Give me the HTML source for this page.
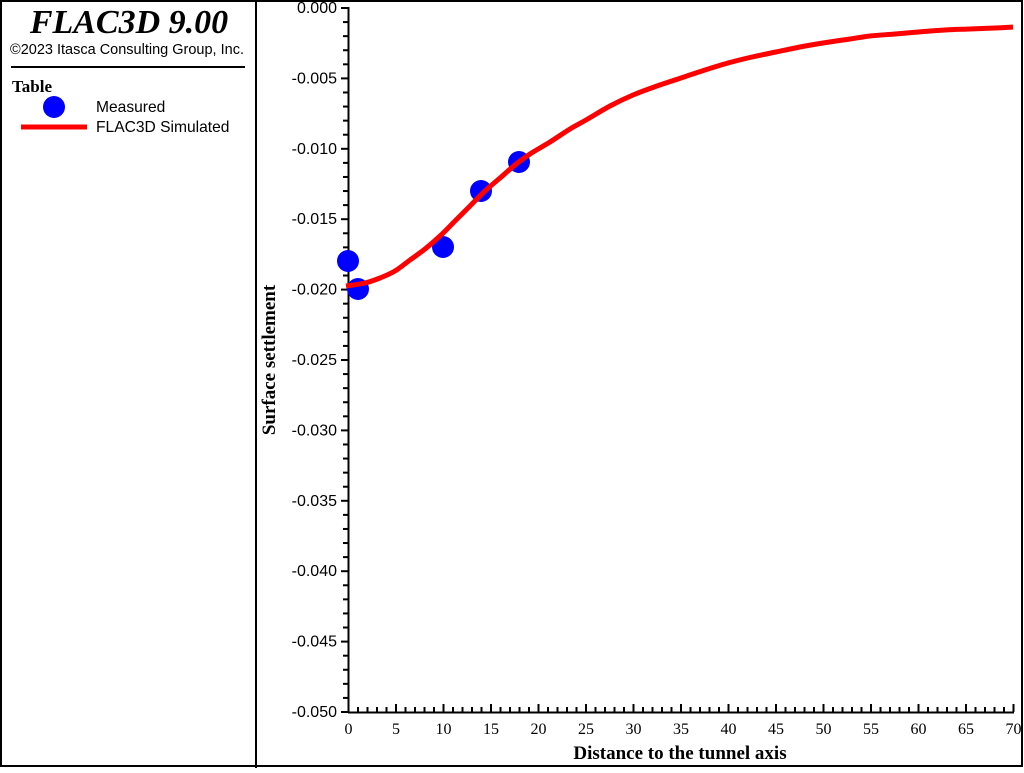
<!DOCTYPE html>
<html><head><meta charset="utf-8"><style>
body{margin:0;width:1024px;height:768px;overflow:hidden;background:#fff}
text{font-family:"Liberation Serif",serif}
text.s,.s text{font-family:"Liberation Sans",sans-serif}
</style></head><body>
<svg width="1024" height="768" xmlns="http://www.w3.org/2000/svg">
<rect x="1" y="1" width="1021" height="765" fill="none" stroke="#000" stroke-width="2"/>
<line x1="256" y1="0" x2="256" y2="768" stroke="#000" stroke-width="2"/>
<text x="129" y="33" font-size="34" font-style="italic" font-weight="bold" text-anchor="middle">FLAC3D 9.00</text>
<text class="s" x="127" y="54" font-size="14.5" text-anchor="middle">©2023 Itasca Consulting Group, Inc.</text>
<line x1="11" y1="67" x2="245" y2="67" stroke="#000" stroke-width="2"/>
<text x="12" y="92" font-size="17" font-weight="bold">Table</text>
<circle cx="54" cy="107" r="11" fill="#0000ff"/>
<line x1="21" y1="127" x2="87" y2="127" stroke="#ff0000" stroke-width="5"/>
<text class="s" x="96" y="112" font-size="15.6">Measured</text>
<text class="s" x="96" y="132" font-size="15.6">FLAC3D Simulated</text>
<g stroke="#000" stroke-width="2">
<line x1="348.5" y1="7" x2="348.5" y2="713"/>
<line x1="348" y1="712.5" x2="1014" y2="712.5"/>
</g>
<g id="yt" stroke="#000" stroke-width="2"></g>
<g id="xt" stroke="#000" stroke-width="2"></g>
<g id="yl" class="s" font-size="16" text-anchor="end"></g>
<g id="xl" font-size="16" text-anchor="middle"></g>
<text x="680" y="759" font-size="19" font-weight="bold" text-anchor="middle">Distance to the tunnel axis</text>
<text transform="translate(275,360) rotate(-90)" font-size="19" font-weight="bold" text-anchor="middle">Surface settlement</text>
<g fill="#0000ff">
<circle cx="348" cy="261" r="11"/><circle cx="358" cy="289" r="11"/><circle cx="443" cy="247" r="11"/><circle cx="481" cy="191" r="11"/><circle cx="519" cy="162" r="11"/>
</g>
<path id="cv" fill="none" stroke="#ff0000" stroke-width="5" stroke-linejoin="round"/>
</svg>
<script>
var ns="http://www.w3.org/2000/svg";
function el(g,t,a,txt){var e=document.createElementNS(ns,t);for(var k in a)e.setAttribute(k,a[k]);if(txt)e.textContent=txt;document.getElementById(g).appendChild(e);}
for(var i=0;i<=50;i++){var y=8+i*14.08;var maj=i%5==0;el("yt","line",{x1:maj?341:343,y1:y,x2:348,y2:y});
if(maj)el("yl","text",{x:337,y:y+5},(i==0?"0.000":"-"+(i/1000).toFixed(3)));}
for(var j=0;j<=70;j++){var x=348.5+j*9.5;var mj=j%5==0;el("xt","line",{x1:x,y1:mj?704:707,x2:x,y2:712});
if(mj)el("xl","text",{x:x,y:734},""+j);}
var p=[[346,286],[365,283],[380,278],[395,271],[410,260],[425,249],[440,236],[455,221],[470,206],[485,191],[500,178],[515,165],[530,154],[550,142],[570,129],[586,120],[610,106],[633,95],[657,86],[681,78],[705,70],[728,63],[752,57],[776,52],[800,47],[823,43],[850,39],[870,36],[895,34],[918,32],[945,30],[970,29],[995,28],[1013,27]];
var d="M"+p[0];
for(var k=0;k<p.length-1;k++){var a=p[k-1]||p[k],b=p[k],c=p[k+1],e=p[k+2]||c;
d+=" C"+(b[0]+(c[0]-a[0])/6)+","+(b[1]+(c[1]-a[1])/6)+" "+(c[0]-(e[0]-b[0])/6)+","+(c[1]-(e[1]-b[1])/6)+" "+c[0]+","+c[1];}
document.getElementById("cv").setAttribute("d",d);
</script>
</body></html>
